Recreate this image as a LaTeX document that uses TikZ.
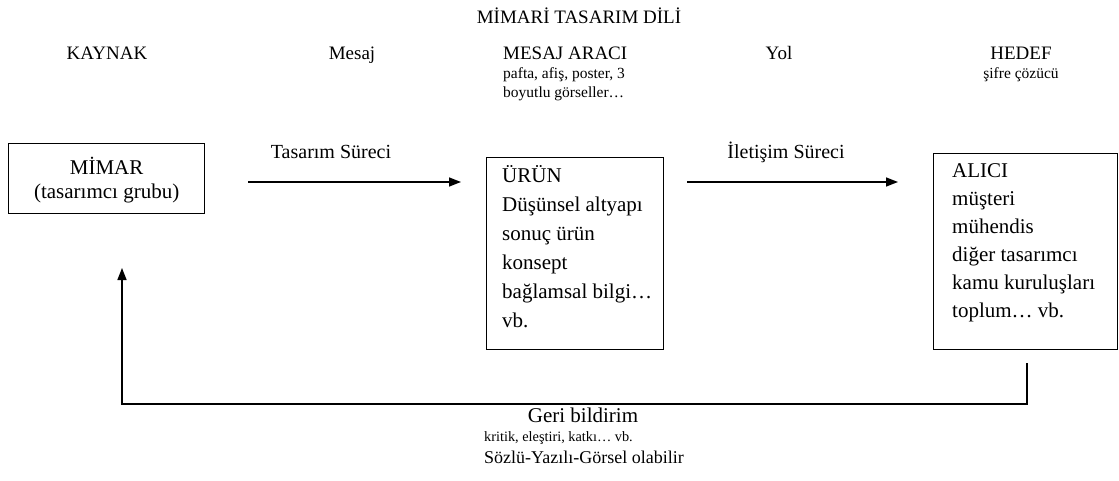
\documentclass[tikz,border=0pt]{standalone}
\usepackage{fontspec}
\setmainfont{Liberation Serif}
\usetikzlibrary{arrows.meta}
\begin{document}
\begin{tikzpicture}[x=1pt,y=-1pt,
  boxshape/.style={draw, line width=1.3pt, inner sep=0pt, anchor=north west},
  hdr/.style={font=\fontsize{19}{22}\selectfont, anchor=base, inner sep=0pt},
  small/.style={font=\fontsize{15.5}{18}\selectfont, inner sep=0pt},
  lbl/.style={font=\fontsize{20}{24}\selectfont, anchor=base, inner sep=0pt},
  boxtext/.style={font=\fontsize{21}{29}\selectfont, inner sep=0pt, align=left, anchor=north west},
  conn/.style={line width=1.5pt, -{Triangle[length=12pt,width=9pt]}}
]
\useasboundingbox (0,0) rectangle (1119,481);

% headers
\node[hdr] (title) at (579,24) {MİMARİ TASARIM DİLİ};
\node[hdr] (kaynak) at (107,60) {KAYNAK};
\node[hdr] (mesaj) at (352,60) {Mesaj};
\node[hdr, anchor=base west] (arac) at (503,60) {MESAJ ARACI};
\node[small, anchor=base west] (arac1) at (503,79) {pafta, afiş, poster, 3};
\node[small, anchor=base west] (arac2) at (503,98) {boyutlu görseller…};
\node[hdr] (yol) at (779,60) {Yol};
\node[hdr] (hedef) at (1021,60) {HEDEF};
\node[small, anchor=base] (sifre) at (1021,79) {şifre çözücü};

% boxes
\node[boxshape, minimum width=196pt, minimum height=70pt] (mimar) at (8,143) {};
\node[font=\fontsize{21}{24}\selectfont, align=center, inner sep=0pt] (mimart) at ([yshift=-1.5pt]mimar.center) {MİMAR\\(tasarımcı grubu)};

\node[boxshape, minimum width=177pt, minimum height=192pt] (urun) at (486,157) {};
\node[boxtext] (urunt) at (502,165) {ÜRÜN\\Düşünsel altyapı\\sonuç ürün\\konsept\\bağlamsal bilgi…\\vb.};

\node[boxshape, minimum width=184pt, minimum height=196pt] (alici) at (933,153) {};
\node[boxtext, font=\fontsize{21}{28}\selectfont] (alicit) at (952,163) {ALICI\\müşteri\\mühendis\\diğer tasarımcı\\kamu kuruluşları\\toplum… vb.};

% arrows
\coordinate (a1s) at (248,182);
\coordinate (a1e) at (461,182);
\draw[conn] (a1s) -- (a1e);
\node[lbl] (tsl) at (331,159) {Tasarım Süreci};

\coordinate (a2s) at (687,182);
\coordinate (a2e) at (898,182);
\draw[conn] (a2s) -- (a2e);
\node[lbl] (isl) at (786,159) {İletişim Süreci};

% feedback
\coordinate (fbs) at (1027,363);
\coordinate (fbe) at (122,268);
\draw[conn] (fbs) |- (fbe |- 0,404) -- (fbe);

\node[font=\fontsize{21}{24}\selectfont, anchor=base, inner sep=0pt] (geri) at (583,422) {Geri bildirim};
\node[font=\fontsize{14.3}{17}\selectfont, anchor=base west, inner sep=0pt] (krit) at (484,441) {kritik, eleştiri, katkı… vb.};
\node[font=\fontsize{18}{21}\selectfont, anchor=base west, inner sep=0pt] (sozlu) at (484,463) {Sözlü-Yazılı-Görsel olabilir};
\end{tikzpicture}
\end{document}
